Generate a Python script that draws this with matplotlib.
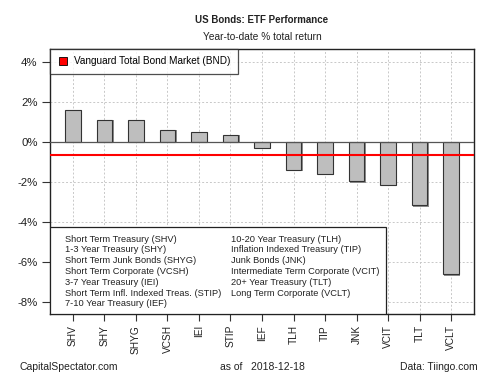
import matplotlib.pyplot as plt
from matplotlib.patches import Rectangle
from matplotlib.lines import Line2D

plt.rcParams['font.family'] = ['Liberation Sans', 'DejaVu Sans']

tickers = ['SHV', 'SHY', 'SHYG', 'VCSH', 'IEI', 'STIP', 'IEF',
           'TLH', 'TIP', 'JNK', 'VCIT', 'TLT', 'VCLT']
returns = [1.62, 1.08, 1.08, 0.58, 0.50, 0.33, -0.28,
           -1.38, -1.58, -1.97, -2.13, -3.17, -6.62]
bnd_return = -0.65
yticks = [4, 2, 0, -2, -4, -6, -8]
names_left = ['Short Term Treasury (SHV)', '1-3 Year Treasury (SHY)',
              'Short Term Junk Bonds (SHYG)', 'Short Term Corporate (VCSH)',
              '3-7 Year Treasury (IEI)', 'Short Term Infl. Indexed Treas. (STIP)',
              '7-10 Year Treasury (IEF)']
names_right = ['10-20 Year Treasury (TLH)', 'Inflation Indexed Treasury (TIP)',
               'Junk Bonds (JNK)', 'Intermediate Term Corporate (VCIT)',
               '20+ Year Treasury (TLT)', 'Long Term Corporate (VCLT)']

fig = plt.figure(figsize=(5, 3.75), dpi=100)
ax = fig.add_axes([50/500, 1-314/375, 424/500, 265/375])

x = list(range(len(tickers)))
# grid
for xi in x:
    ax.axvline(xi, color='#c8c8c8', lw=0.7, ls=(0, (2, 2)), zorder=0)
for yv in yticks:
    ax.axhline(yv, color='#c8c8c8', lw=0.7, ls=(0, (2, 2)), zorder=0)

# shadow then bars
ax.bar([xi + 0.04 for xi in x], [r - (0.06 if r < 0 else 0.0) for r in returns],
       width=0.5, color='#8c8c8c', edgecolor='none', zorder=1)
ax.bar(x, returns, width=0.5, color='#bebebe', edgecolor='#333333', lw=0.8, zorder=2)
ax.axhline(0, color='#555555', lw=0.9, zorder=3)
ax.axhline(bnd_return, color='#ff0000', lw=1.5, zorder=4)

ax.set_xlim(-0.73, 12.73)
ax.set_ylim(-8.6, 4.65)
ax.set_yticks(yticks)
ax.set_yticklabels(['%d%%' % v for v in yticks], fontsize=8.2, color='#222222')
ax.set_xticks(x)
ax.set_xticklabels(tickers, rotation=90, fontsize=7.3, color='#222222')
ax.tick_params(axis='y', length=6, width=0.8, color='#333333', pad=3)
ax.tick_params(axis='x', length=5, width=0.8, color='#333333', pad=3)
for s in ax.spines.values():
    s.set_color('#222222')
    s.set_linewidth(1)

# legend
leg = ax.legend([Line2D([], [], marker='s', ls='none', markersize=6,
                        markerfacecolor='#ff0000', markeredgecolor='#000000', markeredgewidth=0.6)],
                ['Vanguard Total Bond Market (BND)'], loc='upper left',
                bbox_to_anchor=(0, 1), fontsize=7.2, frameon=True, fancybox=False,
                borderaxespad=0, handlelength=1, handletextpad=0.7, borderpad=0.75)
leg.get_frame().set_edgecolor('#222222')
leg.get_frame().set_linewidth(0.9)
leg.set_zorder(10)

# names box
box = Rectangle((0, 0), (386-50)/424, (314-227)/265, transform=ax.transAxes,
                facecolor='white', edgecolor='#222222', lw=0.9, zorder=9)
ax.add_patch(box)
for i, t in enumerate(names_left):
    fig.text(65/500, 1 - (239 + i*10.8)/375, t, fontsize=6.7, color='#222222',
             va='center', zorder=11)
for i, t in enumerate(names_right):
    fig.text(231/500, 1 - (239 + i*10.8)/375, t, fontsize=6.7, color='#222222',
             va='center', zorder=11)

fig.text(262/500, 1 - 20/375, 'US Bonds: ETF Performance', ha='center', va='center',
         fontsize=7.0, fontweight='bold', color='#222222')
fig.text(262/500, 1 - 37/375, 'Year-to-date % total return', ha='center', va='center',
         fontsize=7.25, color='#222222')
fig.text(20/500, 1 - 367/375, 'CapitalSpectator.com', ha='left', va='center',
         fontsize=7.5, color='#222222')
fig.text(262/500, 1 - 367/375, 'as of   2018-12-18', ha='center', va='center',
         fontsize=7.5, color='#222222')
fig.text(478/500, 1 - 367/375, 'Data: Tiingo.com', ha='right', va='center',
         fontsize=7.5, color='#222222')

fig.savefig('out.png', dpi=100)
